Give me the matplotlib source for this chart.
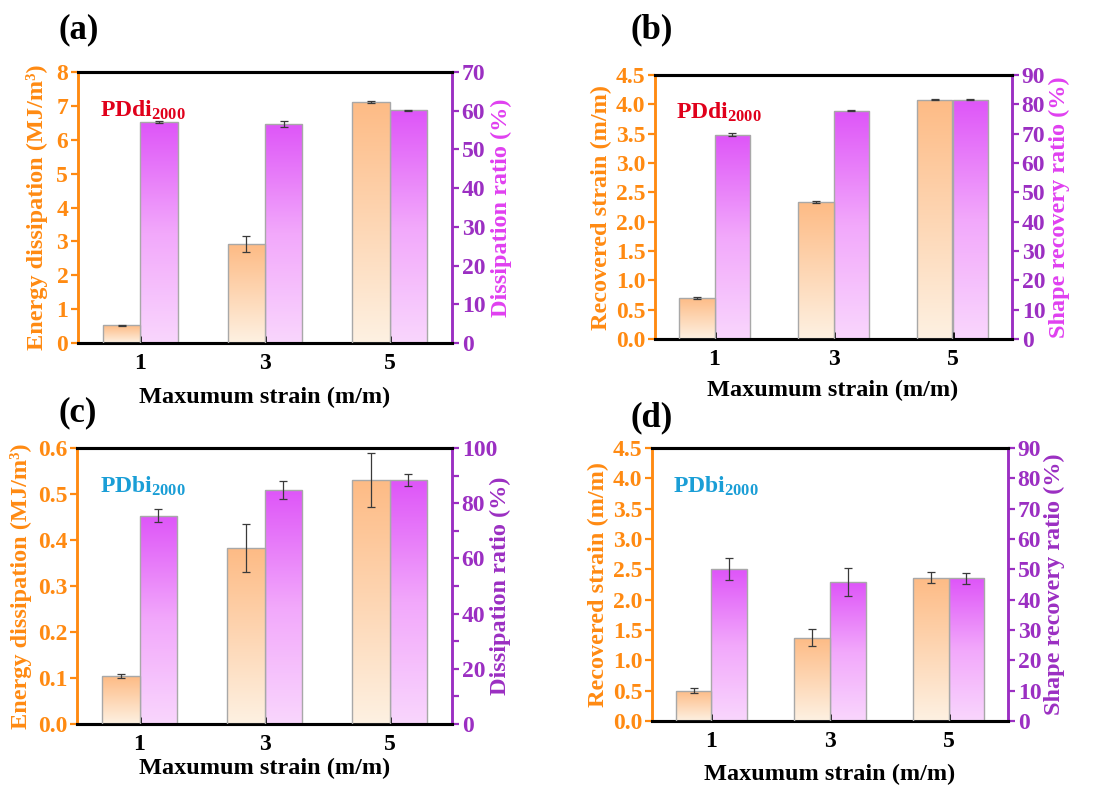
"""
Energy dissipation / recovery of PDdi2000 and PDbi2000 at different maximum strains.
4 panels, each with two y axes and gradient-filled bars.
"""

import matplotlib
matplotlib.use("Agg")
import matplotlib.pyplot as plt
import numpy as np
from matplotlib.colors import LinearSegmentedColormap
from matplotlib.patches import Rectangle
from matplotlib.ticker import MultipleLocator, FormatStrFormatter

plt.rcParams['font.family'] = ['Liberation Serif', 'DejaVu Serif']
plt.rcParams['font.weight'] = 'bold'
plt.rcParams['mathtext.fontset'] = 'custom'
plt.rcParams['mathtext.rm'] = 'Liberation Serif:bold'
plt.rcParams['mathtext.bf'] = 'Liberation Serif:bold'
plt.rcParams['mathtext.it'] = 'Liberation Serif:bold:italic'

# ---- data ----
strain = [1, 3, 5]

# (a) PDdi2000
a_energy = [0.52, 2.92, 7.12]
a_energy_err = [0.02, 0.24, 0.03]
a_ratio = [57.0, 56.6, 60.1]
a_ratio_err = [0.3, 0.7, 0.2]

# (b) PDdi2000
b_strain = [0.70, 2.335, 4.08]
b_strain_err = [0.01, 0.01, 0.01]
b_ratio = [69.7, 77.8, 81.6]
b_ratio_err = [0.4, 0.2, 0.2]

# (c) PDbi2000
c_energy = [0.104, 0.382, 0.530]
c_energy_err = [0.005, 0.052, 0.059]
c_ratio = [75.5, 84.8, 88.4]
c_ratio_err = [2.4, 3.25, 2.1]

# (d) PDbi2000
d_strain = [0.50, 1.375, 2.36]
d_strain_err = [0.04, 0.143, 0.088]
d_ratio = [50.1, 45.8, 47.1]
d_ratio_err = [3.6, 4.7, 1.8]

ORANGE = '#ff8a12'
PURPLE = '#9b2fc2'
MAGENTA = '#e040f0'
RED = '#e0001b'
BLUE = '#1a9ed6'

orange_cmap = LinearSegmentedColormap.from_list('or', ['#fef1e2', '#fdbb85'])
purple_cmap = LinearSegmentedColormap.from_list('pu', ['#f9d6fd', '#f2a8fb', '#de55f8'])

BAR_W = 0.6
W, H = 1112, 789
TICK_FS = 17
LABEL_FS = 17.5

fig = plt.figure(figsize=(W / 100, H / 100), dpi=100)


def px(x, y):
    """pixel (from top-left) -> figure fraction"""
    return x / W, 1 - y / H


def add_axes(x0, x1, y0, y1):
    return fig.add_axes([x0 / W, 1 - y1 / H, (x1 - x0) / W, (y1 - y0) / H])


def gradient_bars(ax, xs, heights, cmap):
    grad = np.linspace(0, 1, 256).reshape(-1, 1)
    for x, h in zip(xs, heights):
        rect = Rectangle((x - BAR_W / 2, 0), BAR_W, h, facecolor='none',
                         edgecolor='#a8a8a8', linewidth=1.0, zorder=3)
        ax.add_patch(rect)
        im = ax.imshow(grad, cmap=cmap, origin='lower', aspect='auto',
                       extent=(x - BAR_W / 2, x + BAR_W / 2, 0, h), zorder=2)
        im.set_clip_path(rect)


def draw_panel(ax, lv, le, rv, re_, lmax, lstep, lfmt, rmax, rstep, rminor,
               llabel, rlabel, rlabel_color, tag, tag_color, letter,
               xlab_pos, llab_x, rlab_x, letter_pos):
    ax2 = ax.twinx()
    xs = np.array(strain, dtype=float)

    gradient_bars(ax, xs - BAR_W / 2, lv, orange_cmap)
    ax.errorbar(xs - BAR_W / 2, lv, yerr=le, fmt='none', ecolor='#3a3a3a',
                elinewidth=0.9, capsize=3, capthick=0.9, zorder=4)
    gradient_bars(ax2, xs + BAR_W / 2, rv, purple_cmap)
    ax2.errorbar(xs + BAR_W / 2, rv, yerr=re_, fmt='none', ecolor='#3a3a3a',
                 elinewidth=0.9, capsize=3, capthick=0.9, zorder=4)

    ax.set_xlim(0, 6)
    ax.set_ylim(0, lmax)
    ax2.set_ylim(0, rmax)
    ax.set_xticks(strain)
    ax.set_xticklabels([str(s) for s in strain])

    ax.yaxis.set_major_locator(MultipleLocator(lstep))
    ax.yaxis.set_major_formatter(FormatStrFormatter(lfmt))
    ax2.yaxis.set_major_locator(MultipleLocator(rstep))
    if rminor:
        ax2.yaxis.set_minor_locator(MultipleLocator(rminor))

    # spines
    for a in (ax, ax2):
        a.spines['top'].set_color('black')
        a.spines['top'].set_linewidth(2.2)
        a.spines['bottom'].set_color('black')
        a.spines['bottom'].set_linewidth(2.2)
        a.spines['left'].set_color(ORANGE)
        a.spines['left'].set_linewidth(1.8)
        a.spines['right'].set_color(PURPLE)
        a.spines['right'].set_linewidth(1.8)

    ax.tick_params(axis='x', direction='in', length=5, width=2, color='black',
                   labelsize=TICK_FS, pad=7)
    ax.tick_params(axis='y', direction='out', length=5, width=1.6, color=ORANGE,
                   labelcolor=ORANGE, labelsize=TICK_FS, pad=2)
    ax2.tick_params(axis='y', which='both', direction='out', length=5, width=1.6,
                    color=PURPLE, labelcolor=PURPLE, labelsize=TICK_FS, pad=2)

    # axis titles placed in figure pixels
    bb = ax.get_position()
    ymid = 1 - (bb.y0 + bb.height / 2)
    fig.text(*px(*xlab_pos), 'Maxumum strain (m/m)', fontsize=LABEL_FS,
             fontweight='bold', ha='center', va='center')
    fig.text(llab_x / W, 1 - ymid, llabel, fontsize=LABEL_FS, fontweight='bold',
             color=ORANGE, rotation=90, ha='center', va='center')
    fig.text(rlab_x / W, 1 - ymid, rlabel, fontsize=LABEL_FS, fontweight='bold',
             color=rlabel_color, rotation=90, ha='center', va='center')

    ax.text(0.06, 0.86, tag, transform=ax.transAxes, fontsize=17,
            fontweight='bold', color=tag_color, va='center', ha='left', zorder=5)
    fig.text(*px(*letter_pos), letter, fontsize=25, fontweight='bold',
             ha='left', va='center')
    ax.set_zorder(ax2.get_zorder() + 1)
    ax.patch.set_visible(False)


ax_a = add_axes(78, 452, 72, 343)
draw_panel(ax_a, a_energy, a_energy_err, a_ratio, a_ratio_err,
           8, 1, '%d', 70, 10, None,
           'Energy dissipation (MJ/m³)', 'Dissipation ratio (%)', MAGENTA,
           r'PDdi$_{\mathrm{2000}}$', RED, '(a)',
           (265, 397), 37, 501, (59, 30))

ax_b = add_axes(655, 1012, 75, 339)
draw_panel(ax_b, b_strain, b_strain_err, b_ratio, b_ratio_err,
           4.5, 0.5, '%.1f', 90, 10, None,
           'Recovered strain (m/m)', 'Shape recovery ratio (%)', MAGENTA,
           r'PDdi$_{\mathrm{2000}}$', RED, '(b)',
           (833, 390), 601, 1059, (631, 30))

ax_c = add_axes(77, 452, 448, 724)
draw_panel(ax_c, c_energy, c_energy_err, c_ratio, c_ratio_err,
           0.6, 0.1, '%.1f', 100, 20, 10,
           'Energy dissipation (MJ/m³)', 'Dissipation ratio (%)', PURPLE,
           r'PDbi$_{\mathrm{2000}}$', BLUE, '(c)',
           (265, 768), 21, 500, (59, 413))

ax_d = add_axes(652, 1008, 448, 721)
draw_panel(ax_d, d_strain, d_strain_err, d_ratio, d_ratio_err,
           4.5, 0.5, '%.1f', 90, 10, None,
           'Recovered strain (m/m)', 'Shape recovery ratio (%)', PURPLE,
           r'PDbi$_{\mathrm{2000}}$', BLUE, '(d)',
           (830, 774), 598, 1054, (631, 418))

fig.savefig('out.png', dpi=100, facecolor='white')
